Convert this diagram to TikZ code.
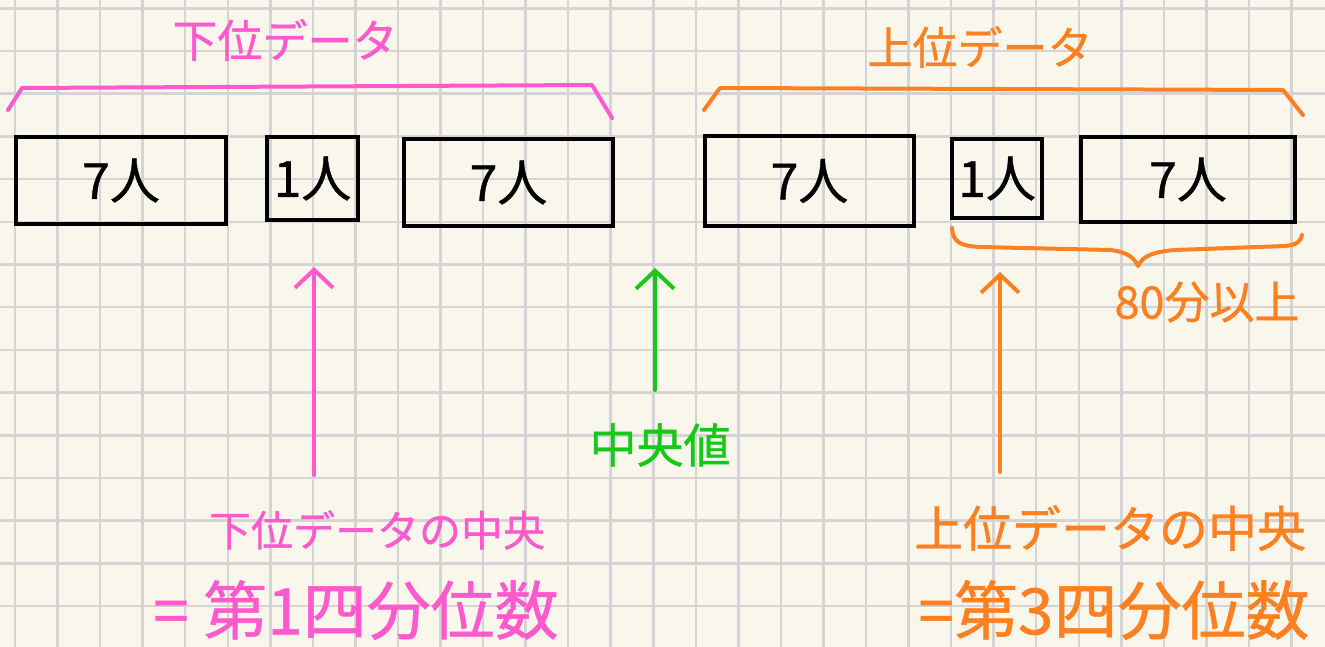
\documentclass[tikz,border=0pt]{standalone}
\usepackage{fontspec}
\newfontfamily\jp[FakeBold=0.8]{Noto Sans CJK JP}
\usetikzlibrary{arrows.meta}
\definecolor{bg}{RGB}{249,247,236}
\definecolor{gridc}{RGB}{212,212,212}
\definecolor{pinkc}{RGB}{255,90,205}
\definecolor{orangec}{RGB}{255,128,32}
\definecolor{greenc}{RGB}{24,200,24}
\begin{document}
\begin{tikzpicture}[x=1pt,y=-1pt,
  gridline/.style={gridc, line width=2.5pt},
  cell/.style={draw=black, line width=4pt, inner sep=0pt, font=\jp\fontsize{50}{54}\selectfont},
  ink/.style={line width=4pt, line cap=round, line join=round},
  uparrow/.style={ink, -{Straight Barb[length=18pt,width=38pt]}},
  lbl/.style={inner sep=0pt, anchor=center}]
\useasboundingbox (0,0) rectangle (1325,647);
\fill[bg] (0,0) rectangle (1325,647);
% grid
\foreach \k in {0,...,30} \draw[gridline] ({15+42.55*\k},0) -- ({15+42.55*\k},647);
\foreach \k in {0,...,15} \draw[gridline] (0,{8.3+42.7*\k}) -- (1325,{8.3+42.7*\k});
% boxes
\node[cell, minimum width=210pt, minimum height=87pt] (b1) at (121,180.5) {7人};
\node[cell, minimum width=91pt, minimum height=83pt] (b2) at (312.5,178.5) {1人};
\node[cell, minimum width=209pt, minimum height=87pt] (b3) at (508.5,182.5) {7人};
\node[cell, minimum width=209pt, minimum height=90pt] (b4) at (809.5,181) {7人};
\node[cell, minimum width=90pt, minimum height=79pt] (b5) at (997,178.5) {1人};
\node[cell, minimum width=214pt, minimum height=85pt] (b6) at (1188,179.5) {7人};
% braces
\draw[ink, pinkc] (8,110) -- (22,88) -- (592,85) -- (612,118);
\draw[ink, orangec] (704,110) -- (720,88) -- (1283,90) -- (1303,115);
\draw[ink, orangec] (952,228) .. controls (953,242) and (960,246) .. (980,247)
  -- (1110,250) .. controls (1128,252) and (1134,258) .. (1138,266)
  .. controls (1143,256) and (1152,252) .. (1175,250)
  -- (1285,246) .. controls (1297,245) and (1301,241) .. (1302,235);
% titles
\node[lbl, text=pinkc, font=\jp\fontsize{45}{49}\selectfont] (lowtitle) at (285,40) {下位データ};
\node[lbl, text=orangec, font=\jp\fontsize{45}{49}\selectfont] (uptitle) at (980,47) {上位データ};
\node[lbl, text=orangec, font=\jp\fontsize{45}{49}\selectfont] (eighty) at (1207,302) {80分以上};
% arrows
\coordinate (p0) at (314,475); \coordinate (p1) at (314,267);
\coordinate (g0) at (655,390); \coordinate (g1) at (655,268);
\coordinate (o0) at (1000,472); \coordinate (o1) at (1000,272);
\draw[uparrow, pinkc] (p0) -- (p1);
\draw[uparrow, greenc] (g0) -- (g1);
\draw[uparrow, orangec] (o0) -- (o1);
% bottom labels
\node[lbl, text=greenc, font=\jp\fontsize{47}{51}\selectfont] (med) at (660,445) {中央値};
\node[lbl, text=pinkc, font=\jp\fontsize{42}{46}\selectfont] (lowmid) at (377,530) {下位データの中央};
\node[lbl, text=pinkc, font=\jp\fontsize{64}{68}\selectfont] (lowq) at (356,610) {= 第1四分位数};
\node[lbl, text=orangec, font=\jp\fontsize{49}{53}\selectfont] (upmid) at (1110,528) {上位データの中央};
\node[lbl, text=orangec, font=\jp\fontsize{64}{68}\selectfont] (upq) at (1114,610) {=第3四分位数};
\end{tikzpicture}
\end{document}
